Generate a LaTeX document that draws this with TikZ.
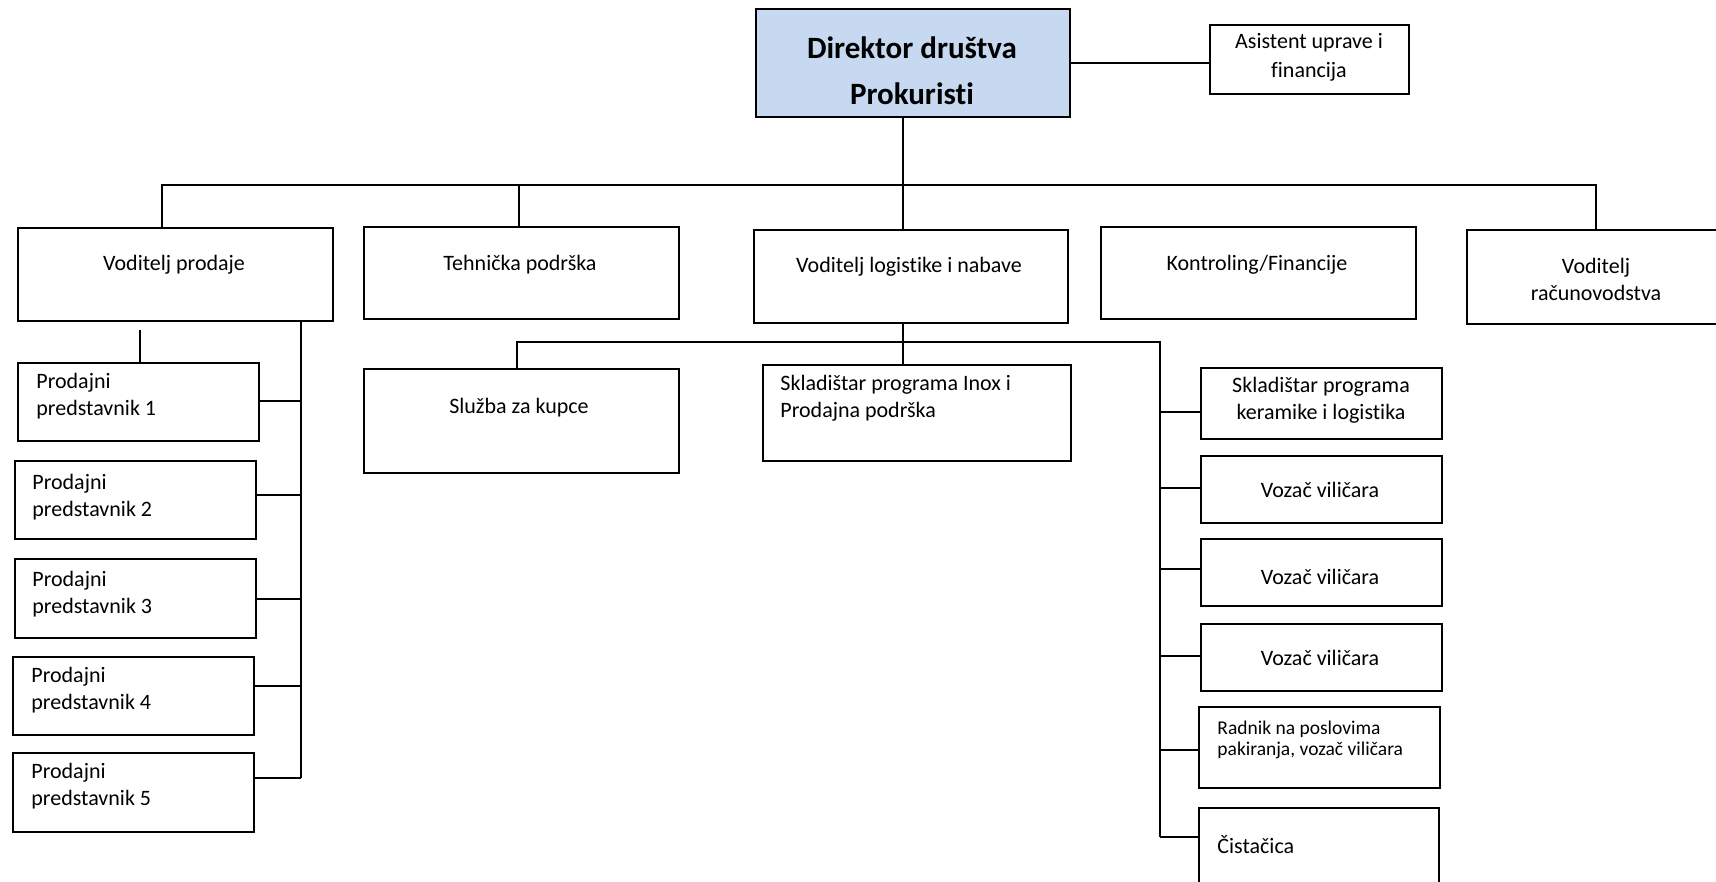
\documentclass[tikz,border=0pt]{standalone}
\usepackage{fontspec}
\setmainfont{Carlito}[Ligatures=NoCommon]
\definecolor{dirblue}{HTML}{C6D9F1}
\begin{document}
\begin{tikzpicture}[x=0.5pt,y=-0.5pt,
  box/.style={draw, line width=0.9pt, inner sep=0pt, anchor=north west},
  conn/.style={line width=0.9pt},
  txt/.style={inner sep=0pt, align=center, font=\fontsize{11}{13.5}\selectfont},
  ltxt/.style={inner sep=0pt, align=left, anchor=west, font=\fontsize{11}{13.5}\selectfont},
]
\useasboundingbox (0,0) rectangle (1716,882);
\fill[white] (0,0) rectangle (1716,882);

% boxes
\node[box, fill=dirblue, minimum width=157pt, minimum height=54pt] (dir) at (755,8) {};
\node[box, minimum width=99.5pt, minimum height=34.5pt] (asis) at (1209,24) {};
\node[box, minimum width=157.5pt, minimum height=46.5pt] (vp) at (17,227) {};
\node[box, minimum width=157.5pt, minimum height=46pt] (teh) at (363,226) {};
\node[box, minimum width=157pt, minimum height=46.5pt] (log) at (753,229) {};
\node[box, minimum width=157.5pt, minimum height=46pt] (kon) at (1100,226) {};
\node[box, minimum width=135pt, minimum height=47pt] (rac) at (1466,229) {};
\node[box, minimum width=120.5pt, minimum height=39pt] (p1) at (17,362) {};
\node[box, minimum width=120.5pt, minimum height=39pt] (p2) at (14,460) {};
\node[box, minimum width=120.5pt, minimum height=39.5pt] (p3) at (14,558) {};
\node[box, minimum width=120.5pt, minimum height=39pt] (p4) at (12,656) {};
\node[box, minimum width=120.5pt, minimum height=39.5pt] (p5) at (12,752) {};
\node[box, minimum width=157.5pt, minimum height=52pt] (slu) at (363,368) {};
\node[box, minimum width=154pt, minimum height=48pt] (inox) at (762,364) {};
\node[box, minimum width=120.5pt, minimum height=35.5pt] (ker) at (1200,367) {};
\node[box, minimum width=120.5pt, minimum height=33.5pt] (v1) at (1200,455) {};
\node[box, minimum width=120.5pt, minimum height=33.5pt] (v2) at (1200,538) {};
\node[box, minimum width=120.5pt, minimum height=33.5pt] (v3) at (1200,623) {};
\node[box, minimum width=120.5pt, minimum height=40.5pt] (rad) at (1198,706) {};
\node[box, minimum width=120pt, minimum height=50pt] (cis) at (1198,807) {};

% texts
\node[txt, font=\fontsize{15.5}{23}\selectfont\bfseries] (dirt) at (912,71) {Direktor društva\\Prokuristi};
\node[txt, font=\fontsize{11}{14.5}\selectfont] (asist) at (1309,57.5) {Asistent uprave i\\financija};
\node[txt] (vpt) at (174,265) {Voditelj prodaje};
\node[txt] (teht) at (520,265) {Tehnička podrška};
\node[txt] (logt) at (909,267) {Voditelj logistike i nabave};
\node[txt] (kont) at (1257,265) {Kontroling/Financije};
\node[txt] (ract) at (1596,279.5) {Voditelj\\računovodstva};
\node[ltxt] (p1t) at (36,396.5) {Prodajni\\predstavnik 1};
\node[ltxt] (p2t) at (32,497.5) {Prodajni\\predstavnik 2};
\node[ltxt] (p3t) at (32,594.5) {Prodajni\\predstavnik 3};
\node[ltxt] (p4t) at (31,690.5) {Prodajni\\predstavnik 4};
\node[ltxt] (p5t) at (31,786) {Prodajni\\predstavnik 5};
\node[txt] (slut) at (519,408) {Služba za kupce};
\node[ltxt] (inoxt) at (780,398.5) {Skladištar programa Inox i\\Prodajna podrška};
\node[txt] (kert) at (1321,400) {Skladištar programa\\keramike i logistika};
\node[txt] (v1t) at (1320,490) {Vozač viličara};
\node[txt] (v2t) at (1320,577) {Vozač viličara};
\node[txt] (v3t) at (1320,658) {Vozač viličara};
\node[ltxt, font=\fontsize{9.75}{10.5}\selectfont] (radt) at (1217,739.5) {Radnik na poslovima\\pakiranja, vozač viličara};
\node[ltxt] (cist) at (1217,845) {Čistačica};

% top level connectors
\coordinate (bA) at (162,185);
\coordinate (bT) at (519,185);
\coordinate (bD) at (903,185);
\coordinate (bR) at (1596,185);
\draw[conn] (dir.east) -- (dir.east -| asis.west);
\draw[conn] (bA |- vp.north) -- (bA) -- (bR) -- (bR |- rac.north);
\draw[conn] (bT) -- (bT |- teh.north);
\draw[conn] (bD |- dir.south) -- (bD |- log.north);

% sales
\coordinate (stub) at (140,330);
\draw[conn] (stub) -- (stub |- p1.north);
\coordinate (sb) at (301,320);
\coordinate (c1) at (301,401);
\coordinate (c2) at (301,495);
\coordinate (c3) at (301,599);
\coordinate (c4) at (301,686);
\coordinate (c5) at (301,778);
\draw[conn] (sb |- vp.south) -- (c5);
\draw[conn] (c1 -| p1.east) -- (c1);
\draw[conn] (c2 -| p2.east) -- (c2);
\draw[conn] (c3 -| p3.east) -- (c3);
\draw[conn] (c4 -| p4.east) -- (c4);
\draw[conn] (c5 -| p5.east) -- (c5);

% logistics
\coordinate (lbS) at (517,342);
\coordinate (lbD) at (903,342);
\coordinate (lbR) at (1160,342);
\coordinate (k1) at (1160,412);
\coordinate (k2) at (1160,488);
\coordinate (k3) at (1160,569);
\coordinate (k4) at (1160,656);
\coordinate (k5) at (1160,750);
\coordinate (k6) at (1160,837);
\draw[conn] (lbD |- log.south) -- (lbD) -- (lbD |- inox.north);
\draw[conn] (lbS |- slu.north) -- (lbS) -- (lbR) -- (k6);
\draw[conn] (k1) -- (k1 -| ker.west);
\draw[conn] (k2) -- (k2 -| v1.west);
\draw[conn] (k3) -- (k3 -| v2.west);
\draw[conn] (k4) -- (k4 -| v3.west);
\draw[conn] (k5) -- (k5 -| rad.west);
\draw[conn] (k6) -- (k6 -| cis.west);
\end{tikzpicture}
\end{document}
